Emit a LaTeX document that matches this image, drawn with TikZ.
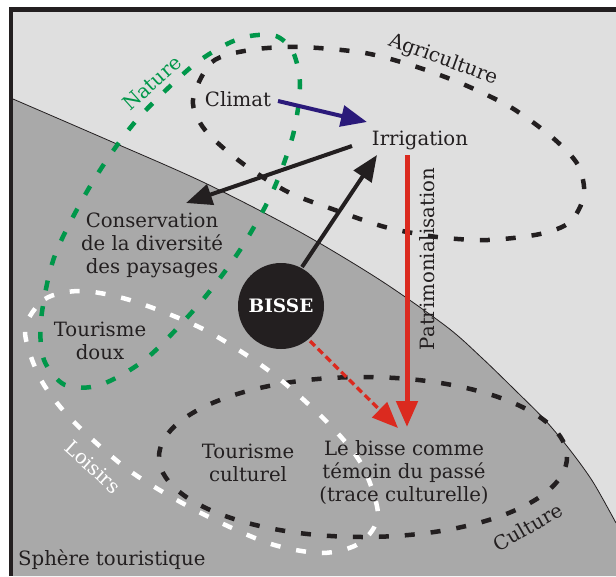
\documentclass[tikz,border=0pt]{standalone}
\usepackage{fontspec}
\setmainfont{DejaVu Serif}
\usetikzlibrary{arrows.meta,calc}
\definecolor{lgray}{HTML}{DFDFDF}
\definecolor{dgray}{HTML}{A9A9A9}
\definecolor{ink}{HTML}{231F20}
\definecolor{navyb}{HTML}{2B1A7A}
\definecolor{rred}{HTML}{DB2A1F}
\definecolor{ngreen}{HTML}{00974A}
\begin{document}
\begin{tikzpicture}[x=1pt,y=-1pt,
  lbl/.style={font=\fontsize{19.7}{23}\selectfont, text=ink, align=center, inner sep=0pt},
  zone/.style={line width=4.5pt, dash pattern=on 10pt off 16pt},
  arr/.style={line width=4pt, -{Triangle[length=26pt,width=21pt]}},
]
\useasboundingbox (0,0) rectangle (616,576);
\fill[white] (0,0) rectangle (616,576);
\fill[lgray] (9,7) rectangle (616,576);
% touristic sphere
\fill[dgray] plot[smooth] coordinates {(13,99) (110,141) (205,183) (300,232) (380,280) (447,327) (482,358) (515,390) (545,420) (570,450) (593,482) (616,523)} -- (616,576) -- (13,576) -- cycle;
\draw[ink, line width=0.8pt] plot[smooth] coordinates {(13,99) (110,141) (205,183) (300,232) (380,280) (447,327) (482,358) (515,390) (545,420) (570,450) (593,482) (616,523)};
% frame
\fill[ink] (9,7) rectangle (616,12);
\fill[ink] (9,7) rectangle (13,576);
% zones
\draw[zone, ink] plot[smooth cycle] coordinates {(193,100) (212,62) (250,50) (300,47) (365,53) (417,67) (465,85) (512,108) (553,138) (578,165) (584,195) (570,222) (540,234) (488,240) (437,237) (385,227) (335,210) (288,192) (242,163) (205,130)};
\draw[zone, ngreen] plot[smooth cycle] coordinates {(250,36) (276,36) (293,52) (300,85) (293,135) (272,193) (240,250) (200,303) (147,358) (100,385) (65,385) (44,360) (41,320) (55,255) (92,183) (135,122) (190,68) (225,45)};
\draw[zone, ink] (363,457) ellipse [x radius=204, y radius=80];
\draw[zone, white] plot[smooth cycle] coordinates {(25,330) (45,299) (82,291) (133,301) (205,330) (272,373) (328,423) (362,465) (378,515) (360,543) (322,553) (268,543) (197,511) (130,471) (72,420) (40,378)};
% texts
\node[lbl] (climat) at (238,99) {Climat};
\node[lbl] (irrig) at (420,140) {Irrigation};
\node[lbl] (cons) at (152,245) {Conservation\\de la diversité\\des paysages};
\node[lbl] (tdoux) at (100,341) {Tourisme\\doux};
\node[lbl] (tcult) at (248,463) {Tourisme\\culturel};
\node[lbl] (temoin) at (404,473) {Le bisse comme\\témoin du passé\\(trace culturelle)};
\node[lbl, anchor=west] (sphere) at (18,560) {Sphère touristique};
\node[lbl, text=ngreen, rotate=42] (nature) at (152,83) {Nature};
\node[lbl, rotate=-20] (agri) at (443,60) {Agriculture};
\node[lbl, rotate=30] (cult) at (528,527) {Culture};
\node[lbl, text=white, rotate=-42] (lois) at (93,467) {Loisirs};
\node[lbl, rotate=90] (patri) at (427,259) {Patrimonialisation};
% arrows
\draw[arr, navyb] ($(climat.center)+(40,2)$) -- ($(irrig.center)+(-53,-18)$);
\draw[arr, ink] ($(irrig.center)+(-68,6)$) -- ($(cons.center)+(34,-42)$);
\draw[arr, rred, line width=5pt] ($(irrig.center)+(-13,15)$) -- ($(temoin.center)+(3,-46)$);
\node[circle, fill=ink, minimum size=86pt, inner sep=0pt, text=white, font=\bfseries\fontsize{18.5}{20}\selectfont] (bisse) at (281,306) {BISSE};
\draw[arr, ink] ($(bisse.center)+(21,-39)$) -- ($(irrig.center)+(-43,15)$);
\draw[arr, rred, line width=3.3pt, dash pattern=on 7pt off 4pt] ($(bisse.center)+(29,35)$) -- ($(temoin.center)+(-6,-45)$);
\end{tikzpicture}
\end{document}
